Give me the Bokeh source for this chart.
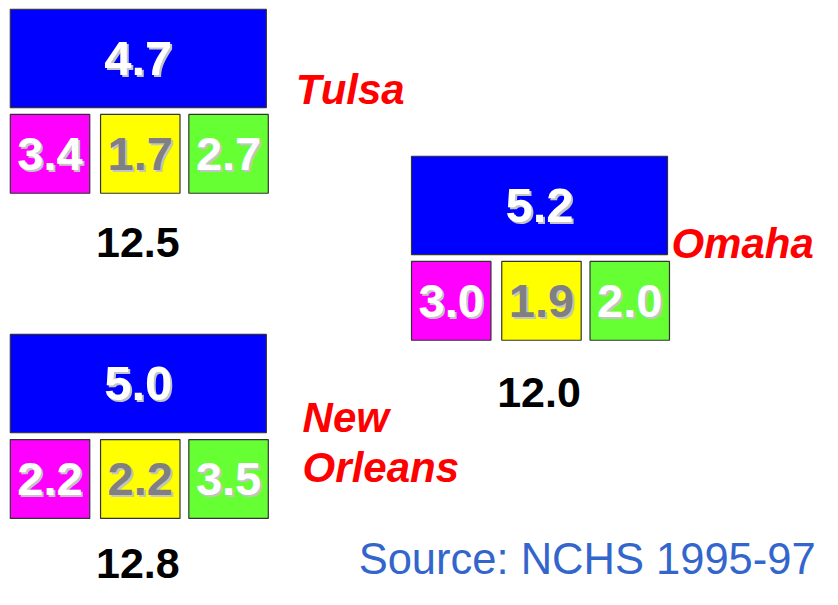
from bokeh.plotting import figure
from bokeh.models import Range1d, ColumnDataSource
from bokeh.embed import file_html
from bokeh.resources import INLINE
from bokeh.core.properties import value

# ---- data ----
cities = ["Tulsa", "Omaha", "New\nOrleans"]
top_vals = [4.7, 5.2, 5.0]
magenta_vals = [3.4, 3.0, 2.2]
yellow_vals = [1.7, 1.9, 2.2]
green_vals = [2.7, 2.0, 3.5]
totals = [12.5, 12.0, 12.8]
source_note = "Source: NCHS 1995-97"

# ---- layout (reference pixel coordinates) ----
group_x = [10, 419, 10]
group_y = [9, 160, 343]
label_dx = [291, 265, 298]
label_dy = [82, 90, 85]
LINE_GAP = 52
BIG_W, BIG_H = 261, 101
SM_W, SM_H = 81, 81
SM_DY = 108
SM_DX = [0, 92, 182]
TOT_DY = [240, 243, 235]

W, H = 822, 589
p = figure(width=W, height=H, output_backend="svg", toolbar_location=None,
           x_range=Range1d(0, 838), y_range=Range1d(605, 0),
           min_border=0)
p.axis.visible = False
p.grid.visible = False
p.outline_line_color = None
p.background_fill_color = "white"
p.border_fill_color = "white"

FONT = value("Liberation Sans")

# big blue boxes
big = ColumnDataSource(dict(
    x=[gx + BIG_W / 2 for gx in group_x],
    y=[gy + BIG_H / 2 for gy in group_y],
    t=[f"{v:.1f}" for v in top_vals]))
p.rect("x", "y", width=BIG_W, height=BIG_H, source=big, fill_color="#0000FF",
       line_color="#333333", line_width=1.2)

# small boxes
colors = ["#FF00FF", "#FFFF00", "#66FF33"]
txt_colors = ["white", "#808080", "white"]
sx, sy, sc, st, stc = [], [], [], [], []
for i in range(3):
    vals = [magenta_vals[i], yellow_vals[i], green_vals[i]]
    for j in range(3):
        sx.append(group_x[i] + SM_DX[j] + SM_W / 2)
        sy.append(group_y[i] + SM_DY + SM_H / 2)
        sc.append(colors[j])
        st.append(f"{vals[j]:.1f}")
        stc.append(txt_colors[j])
small = ColumnDataSource(dict(x=sx, y=sy, c=sc, t=st, tc=stc))
p.rect("x", "y", width=SM_W, height=SM_H, source=small, fill_color="c",
       line_color="#333333", line_width=1.2)

# value labels with shadows
for src, size in [(big, "49px"), (small, "47px")]:
    p.text("x", "y", text="t", source=src, text_font=FONT, text_font_style="bold",
           text_font_size=size, text_color="#c4c4c4", text_align="center",
           text_baseline="middle", x_offset=2, y_offset=2)
p.text("x", "y", text="t", source=big, text_font=FONT, text_font_style="bold",
       text_font_size="49px", text_color="white", text_align="center",
       text_baseline="middle")
p.text("x", "y", text="t", source=small, text_font=FONT, text_font_style="bold",
       text_font_size="47px", text_color="tc", text_align="center",
       text_baseline="middle")

# totals
tot = ColumnDataSource(dict(x=[gx + 130 for gx in group_x],
                            y=[gy + d for gy, d in zip(group_y, TOT_DY)],
                            t=[f"{v:.1f}" for v in totals]))
p.text("x", "y", text="t", source=tot, text_font=FONT, text_font_style="bold",
       text_font_size="43px", text_color="black", text_align="center",
       text_baseline="middle")

# city names (one text per line)
nx, ny, nt = [], [], []
for gx, gy, dx, dy, name in zip(group_x, group_y, label_dx, label_dy, cities):
    for k, line in enumerate(name.split("\n")):
        nx.append(gx + dx)
        ny.append(gy + dy + k * LINE_GAP)
        nt.append(line)
names = ColumnDataSource(dict(x=nx, y=ny, t=nt))
p.text("x", "y", text="t", source=names, text_font=FONT,
       text_font_style="bold italic", text_font_size="42px", text_color="#FF0000",
       text_align="left", text_baseline="middle")

# source note
p.text(x=[831], y=[574], text=[source_note], text_font=FONT,
       text_font_size="43.5px", text_color="#3366CC", text_align="right",
       text_baseline="middle")

open("out.html", "w").write(file_html(p, INLINE))
